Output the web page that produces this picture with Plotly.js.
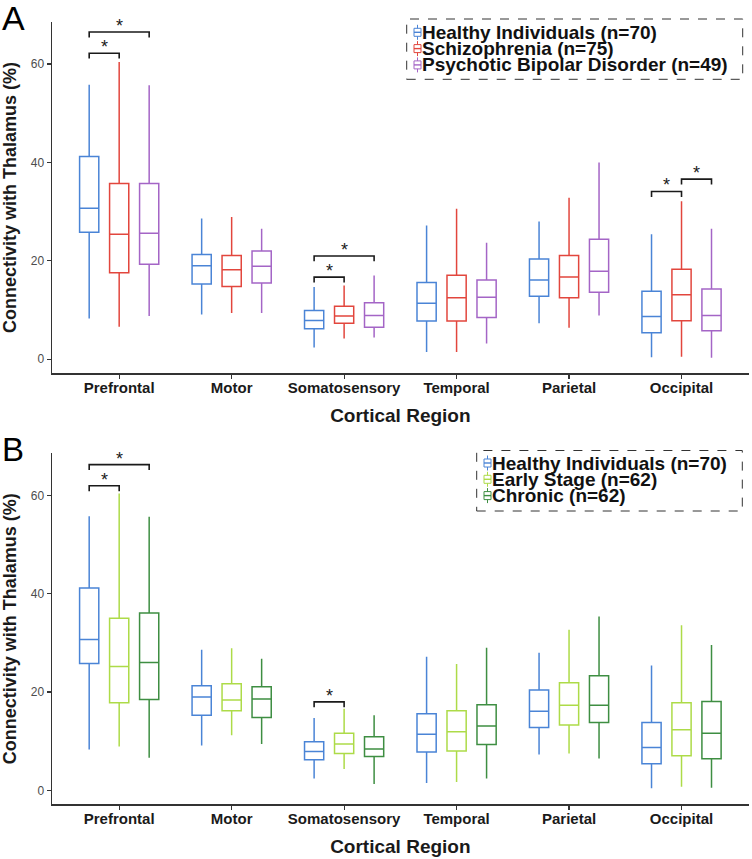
<!DOCTYPE html>
<html><head><meta charset="utf-8">
<script src="https://cdn.plot.ly/plotly-3.0.1.min.js"></script>
<style>html,body{margin:0;padding:0;background:#fff}</style>
</head><body><div id="chart" style="width:752px;height:859px"></div>
<script>
// ---------- DATA ----------
const regions = ['Prefrontal','Motor','Somatosensory','Temporal','Parietal','Occipital'];

// Healthy Individuals (same in both panels)
const healthyLower  = [8.3, 9.1, 2.4, 1.5, 7.3, 0.4];
const healthyQ1     = [25.8, 15.3, 6.2, 7.8, 12.8, 5.4];
const healthyMedian = [30.7, 19.0, 7.9, 11.4, 16.1, 8.7];
const healthyQ3     = [41.2, 21.3, 9.9, 15.6, 20.4, 13.8];
const healthyUpper  = [55.8, 28.6, 14.7, 27.2, 28.0, 25.4];

// Schizophrenia
const szLower  = [6.6, 9.4, 4.2, 1.5, 6.4, 0.5];
const szQ1     = [17.6, 14.8, 7.3, 7.8, 12.5, 7.85];
const szMedian = [25.4, 18.2, 8.8, 12.5, 16.7, 13.1];
const szQ3     = [35.7, 21.1, 10.8, 17.1, 21.1, 18.3];
const szUpper  = [60.4, 28.9, 15.0, 30.6, 32.8, 32.1];

// Psychotic Bipolar Disorder
const bpLower  = [8.8, 9.4, 4.4, 3.2, 8.9, 0.3];
const bpQ1     = [19.3, 15.5, 6.5, 8.5, 13.6, 5.8];
const bpMedian = [25.6, 18.9, 8.9, 12.6, 17.9, 8.9];
const bpQ3     = [35.7, 22.0, 11.5, 16.1, 24.4, 14.3];
const bpUpper  = [55.7, 26.5, 17.0, 23.7, 40.0, 26.5];

// Early Stage
const esLower  = [8.9, 11.2, 4.35, 1.7, 7.5, 0.7];
const esQ1     = [17.8, 16.2, 7.5, 8.0, 13.3, 7.05];
const esMedian = [25.2, 18.4, 9.4, 11.9, 17.3, 12.35];
const esQ3     = [35.0, 21.7, 11.6, 16.2, 21.9, 17.8];
const esUpper  = [60.4, 28.9, 16.6, 25.7, 32.7, 33.6];

// Chronic
const chLower  = [6.65, 9.4, 1.3, 2.4, 6.45, 0.5];
const chQ1     = [18.5, 14.8, 6.9, 9.3, 13.8, 6.4];
const chMedian = [26.0, 18.6, 8.4, 13.1, 17.3, 11.6];
const chQ3     = [36.1, 21.1, 10.9, 17.4, 23.3, 18.1];
const chUpper  = [55.7, 26.8, 15.3, 29.0, 35.4, 29.6];

const groupsA = ['Healthy Individuals (n=70)','Schizophrenia (n=75)','Psychotic Bipolar Disorder (n=49)'];
const groupsB = ['Healthy Individuals (n=70)','Early Stage (n=62)','Chronic (n=62)'];
const colorsA = ['#4a84d6','#e2463d','#a465c6'];
const colorsB = ['#4a84d6','#addb48','#3e8e42'];

// significance brackets (region index, group from, group to, bracket height)
const brRegionA = [0, 0, 2, 2, 5, 5];
const brFromA   = [0, 0, 0, 0, 0, 1];
const brToA     = [1, 2, 1, 2, 1, 2];
const brYA      = [62.2, 66.5, 16.7, 21.0, 34.1, 36.6];
const brRegionB = [0, 0, 2];
const brFromB   = [0, 0, 0];
const brToB     = [1, 2, 1];
const brYB      = [62.0, 66.3, 18.0];

const yTicks = [0, 20, 40, 60];
const panelLabels = ['A', 'B'];

// ---------- LAYOUT HELPERS ----------
const W = 752, H = 859;
const px = x => x / W;
const py = y => 1 - y / H;
const FONT = 'Liberation Sans, Arial, sans-serif';
const BOXGAP = 0.2, BOXGROUPGAP = 0.36;
const groupOffset = k => (-0.5 + (k + 0.5) / 3) * (1 - BOXGAP);

function box(name, color, k, lo, q1, med, q3, hi, xa, ya) {
  return {
    type: 'box', name: name, x: regions, q1: q1, median: med, q3: q3,
    lowerfence: lo, upperfence: hi, boxpoints: false, whiskerwidth: 0,
    offsetgroup: 'g' + k, alignmentgroup: xa,
    xaxis: xa, yaxis: ya, showlegend: false, hoverinfo: 'skip',
    line: {color: color, width: 1.5}, fillcolor: 'rgba(255,255,255,0)'
  };
}

const traces = [
  box(groupsA[0], colorsA[0], 0, healthyLower, healthyQ1, healthyMedian, healthyQ3, healthyUpper, 'x', 'y'),
  box(groupsA[1], colorsA[1], 1, szLower, szQ1, szMedian, szQ3, szUpper, 'x', 'y'),
  box(groupsA[2], colorsA[2], 2, bpLower, bpQ1, bpMedian, bpQ3, bpUpper, 'x', 'y'),
  box(groupsB[0], colorsB[0], 0, healthyLower, healthyQ1, healthyMedian, healthyQ3, healthyUpper, 'x2', 'y2'),
  box(groupsB[1], colorsB[1], 1, esLower, esQ1, esMedian, esQ3, esUpper, 'x2', 'y2'),
  box(groupsB[2], colorsB[2], 2, chLower, chQ1, chMedian, chQ3, chUpper, 'x2', 'y2')
];

const shapes = [];
const annotations = [];

function brackets(reg, from, to, yv, xref, yref) {
  const tip = 1.1;
  for (let i = 0; i < reg.length; i++) {
    const x0 = reg[i] + groupOffset(from[i]);
    const x1 = reg[i] + groupOffset(to[i]);
    const y = yv[i];
    shapes.push({type: 'path', xref: xref, yref: yref,
      path: `M ${x0} ${y - tip} L ${x0} ${y} L ${x1} ${y} L ${x1} ${y - tip}`,
      line: {color: '#1a1a1a', width: 1.6}});
    annotations.push({xref: xref, yref: yref, x: (x0 + x1) / 2, y: y, text: '*',
      showarrow: false, yanchor: 'middle', yshift: 6,
      font: {family: FONT, size: 18, color: '#1a1a1a'}});
  }
}
brackets(brRegionA, brFromA, brToA, brYA, 'x', 'y');
brackets(brRegionB, brFromB, brToB, brYB, 'x2', 'y2');

function legend(names, colors, left, top, right, bottom, iconX, textX, rows) {
  shapes.push({type: 'rect', xref: 'paper', yref: 'paper',
    x0: px(left), x1: px(right), y0: py(bottom), y1: py(top),
    line: {color: '#333', width: 1, dash: 'dash'}});
  for (let i = 0; i < names.length; i++) {
    const c = rows[i], col = colors[i];
    shapes.push({type: 'rect', xref: 'paper', yref: 'paper',
      x0: px(iconX), x1: px(iconX + 7), y0: py(c + 4), y1: py(c - 4),
      line: {color: col, width: 1}});
    shapes.push({type: 'line', xref: 'paper', yref: 'paper',
      x0: px(iconX), x1: px(iconX + 7), y0: py(c), y1: py(c), line: {color: col, width: 1.4}});
    shapes.push({type: 'line', xref: 'paper', yref: 'paper',
      x0: px(iconX + 3.5), x1: px(iconX + 3.5), y0: py(c - 4), y1: py(c - 7.5), line: {color: col, width: 1}});
    shapes.push({type: 'line', xref: 'paper', yref: 'paper',
      x0: px(iconX + 3.5), x1: px(iconX + 3.5), y0: py(c + 4), y1: py(c + 7.5), line: {color: col, width: 1}});
    annotations.push({xref: 'paper', yref: 'paper', x: px(textX), y: py(c),
      xanchor: 'left', yanchor: 'middle', text: names[i], showarrow: false,
      font: {family: FONT, size: 19, color: '#111', weight: 700}});
  }
}
legend(groupsA, colorsA, 406.7, 19, 742.7, 79.3, 414, 419.5, [32.3, 48.6, 64.9]);
legend(groupsB, colorsB, 476.7, 450.5, 742.3, 511, 484, 489.5, [463, 479.3, 495.6]);

annotations.push({xref: 'paper', yref: 'paper', x: 0, y: py(-3), xanchor: 'left', yanchor: 'top',
  text: panelLabels[0], showarrow: false, font: {family: FONT, size: 34, color: '#000'}});
annotations.push({xref: 'paper', yref: 'paper', x: 0, y: py(429), xanchor: 'left', yanchor: 'top',
  text: panelLabels[1], showarrow: false, font: {family: FONT, size: 33, color: '#000'}});

function xaxis() {
  return {
    domain: [px(51.7), px(749)], range: [-0.6, 5.6], type: 'category',
    showline: true, linecolor: '#333', linewidth: 1.2, showgrid: false, zeroline: false,
    ticks: 'outside', ticklen: 4, tickcolor: '#333', tickwidth: 1.1, ticklabelstandoff: -4,
    tickfont: {family: FONT, size: 15, color: '#1a1a1a', weight: 700},
    title: {text: 'Cortical Region', standoff: 14, font: {family: FONT, size: 19, color: '#1a1a1a', weight: 700}},
    automargin: false, fixedrange: true
  };
}
function yaxis(top, bottom, anchor) {
  return {
    domain: [py(bottom), py(top)], range: [-2.85, 68.6], anchor: anchor,
    tickvals: yTicks, ticktext: yTicks.map(String),
    showline: true, linecolor: '#333', linewidth: 1.2, showgrid: false, zeroline: false,
    ticks: 'outside', ticklen: 4, tickcolor: '#333', tickwidth: 1.1,
    tickfont: {family: FONT, size: 12, color: '#4d4d4d'},
    title: {text: 'Connectivity with Thalamus (%)', standoff: 12, font: {family: FONT, size: 18, color: '#1a1a1a', weight: 700}},
    automargin: false, fixedrange: true
  };
}

const xa1 = xaxis(); xa1.anchor = 'y';
const xa2 = xaxis(); xa2.anchor = 'y2';
const layout = {
  width: W, height: H, margin: {l: 0, r: 0, t: 0, b: 0},
  paper_bgcolor: '#ffffff', plot_bgcolor: '#ffffff',
  boxmode: 'group', boxgap: BOXGAP, boxgroupgap: BOXGROUPGAP,
  showlegend: false,
  xaxis: xa1, yaxis: yaxis(21.7, 373.3, 'x'),
  xaxis2: xa2, yaxis2: yaxis(453.3, 804.3, 'x2'),
  shapes: shapes, annotations: annotations
};

Plotly.newPlot('chart', traces, layout, {displayModeBar: false, staticPlot: true});
</script>
</body></html>
